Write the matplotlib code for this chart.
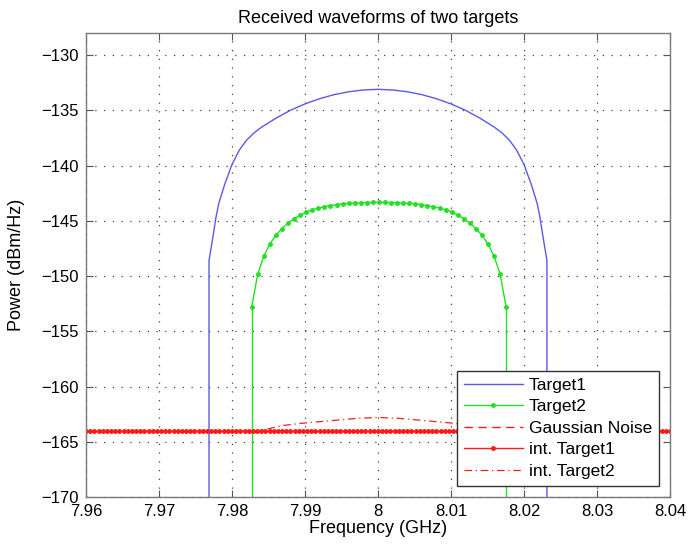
import matplotlib
matplotlib.use('Agg')
import matplotlib.pyplot as plt
from matplotlib.ticker import FixedLocator
import numpy as np

plt.rcParams['font.family'] = ['Liberation Sans', 'DejaVu Sans']

# Target1 (blue), vertical edges drop below the axis
t1_freq = [7.97685, 7.97685, 7.97740, 7.97780, 7.97820, 7.97900, 7.98000,
           7.98100, 7.98200, 7.98300, 7.98400, 7.98600, 7.98800, 7.99000,
           7.99200, 7.99400, 7.99600, 7.99800, 8.00000, 8.00200, 8.00400,
           8.00600, 8.00800, 8.01000, 8.01200, 8.01400, 8.01600, 8.01700,
           8.01800, 8.01900, 8.02000, 8.02100, 8.02180, 8.02220, 8.02260,
           8.02315, 8.02315]
t1_dbm = [-180.0, -148.6, -146.4, -144.7, -143.4, -141.7, -139.9,
          -138.6, -137.7, -137.05, -136.55, -135.72, -135.0, -134.42,
          -133.95, -133.58, -133.32, -133.16, -133.1, -133.16, -133.32,
          -133.58, -133.95, -134.42, -135.0, -135.72, -136.55, -137.05,
          -137.7, -138.6, -139.9, -141.7, -143.4, -144.7, -146.4,
          -148.6, -180.0]

# Target2 (green, with markers at each sample)
t2_freq = [7.98270, 7.98353, 7.98436, 7.98519, 7.98602, 7.98685, 7.98768,
           7.98851, 7.98934, 7.99017, 7.99100, 7.99183, 7.99266, 7.99349,
           7.99432, 7.99515, 7.99598, 7.99681, 7.99764, 7.99847, 7.99930,
           8.00013, 8.00096, 8.00179, 8.00262, 8.00345, 8.00428, 8.00511,
           8.00594, 8.00677, 8.00760, 8.00843, 8.00926, 8.01009, 8.01092,
           8.01175, 8.01258, 8.01341, 8.01424, 8.01507, 8.01590, 8.01673,
           8.01756]
t2_dbm = [-152.8, -149.8, -148.2, -147.1, -146.3, -145.7, -145.2, -144.8,
          -144.5, -144.2, -144.0, -143.85, -143.73, -143.62, -143.53, -143.47,
          -143.43, -143.39, -143.37, -143.35, -143.34, -143.33, -143.34,
          -143.35, -143.37, -143.39, -143.43, -143.47, -143.53, -143.62,
          -143.73, -143.85, -144.0, -144.2, -144.5, -144.8, -145.2, -145.7,
          -146.3, -147.1, -148.2, -149.8, -152.8]
# vertical drops at the band edges of Target2
t2_edge_freq = [7.98270, 7.98270, np.nan, 8.01756, 8.01756]
t2_edge_dbm = [-180.0, -152.8, np.nan, -152.8, -180.0]

# noise floor and interference of Target1 (flat at -164 dBm/Hz)
noise_level = -164.0
noise_freq = np.linspace(7.96, 8.04, 141)

# interference of Target2 (dash-dot)
int2_freq = [7.9827, 7.9867, 7.9894, 7.9935, 7.9972, 8.0000, 8.0028, 8.0065,
             8.0106, 8.0133, 8.0175]
int2_dbm = [-164.2, -163.55, -163.34, -163.09, -162.88, -162.8, -162.88,
            -163.09, -163.34, -163.55, -164.2]

x_ticks = [7.96, 7.97, 7.98, 7.99, 8.00, 8.01, 8.02, 8.03, 8.04]
x_labels = ['7.96', '7.97', '7.98', '7.99', '8', '8.01', '8.02', '8.03', '8.04']
y_ticks = [-130, -135, -140, -145, -150, -155, -160, -165, -170]
y_labels = ['\u2212130', '\u2212135', '\u2212140', '\u2212145', '\u2212150',
            '\u2212155', '\u2212160', '\u2212165', '\u2212170']

BLUE, GREEN, RED = '#5a5ae8', '#22e022', '#ff1a1a'

fig = plt.figure(figsize=(6.91, 5.44), dpi=100)
ax = fig.add_axes([0.1245, 0.0864, 0.845, 0.853])

ax.plot(t1_freq, t1_dbm, color=BLUE, lw=1.0, label='Target1')
ax.plot(t2_freq, t2_dbm, color=GREEN, lw=1.0, marker='.', ms=5, label='Target2')
ax.plot(t2_edge_freq, t2_edge_dbm, color=GREEN, lw=1.0)
ax.plot(noise_freq, np.full_like(noise_freq, noise_level), color=RED,
        lw=1.0, ls=(0, (6, 4)), label='Gaussian Noise')
ax.plot(noise_freq, np.full_like(noise_freq, noise_level), color=RED,
        lw=1.0, marker='.', ms=5, label='int. Target1')
ax.plot(int2_freq, int2_dbm, color=RED, lw=0.9, ls=(0, (6, 3, 1, 3)),
        label='int. Target2')

ax.set_xlim(7.96, 8.04)
ax.set_ylim(-170, -128)
ax.xaxis.set_major_locator(FixedLocator(x_ticks))
ax.yaxis.set_major_locator(FixedLocator(y_ticks))
ax.set_xticklabels(x_labels)
ax.set_yticklabels(y_labels)
ax.tick_params(direction='in', length=5, width=0.8, color='#555555',
               labelsize=12, top=True, right=True, pad=5)
ax.grid(True, color='#444444', ls=(0, (1, 6)), lw=0.9)
for s in ax.spines.values():
    s.set_color('#7a7a7a')
    s.set_linewidth(1.0)

ax.set_title('Received waveforms of two targets', fontsize=13, pad=7)
ax.set_xlabel('Frequency (GHz)', fontsize=13, labelpad=1)
ax.set_ylabel('Power (dBm/Hz)', fontsize=13, labelpad=12)

leg = ax.legend(loc='lower right', bbox_to_anchor=(0.981, 0.024),
                borderaxespad=0, fontsize=12.5, handlelength=3.4,
                handletextpad=0.35, labelspacing=0.37, borderpad=0.4,
                fancybox=False, framealpha=1, edgecolor='#333333')
leg.get_frame().set_linewidth(1.0)

fig.savefig('out.png', dpi=100)
